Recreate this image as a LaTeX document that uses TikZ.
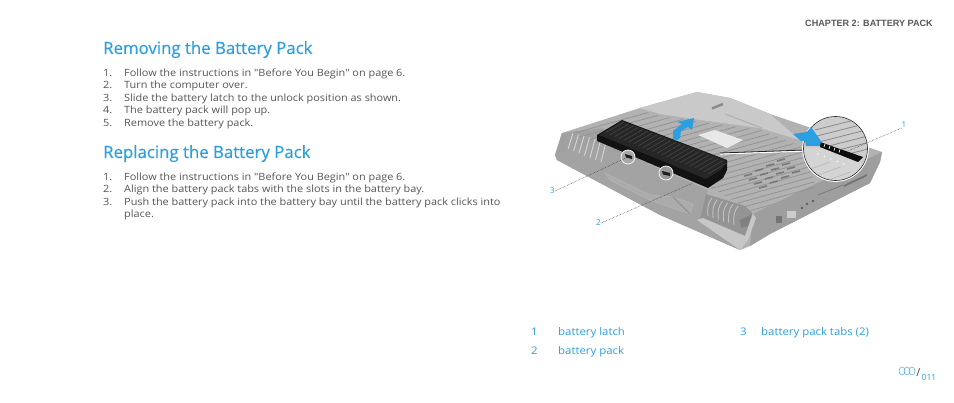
\documentclass[tikz,border=0pt]{standalone}
\usepackage{fontspec}
\setmainfont{Open Sans}
\newfontfamily\hdr{Liberation Sans}
\newfontfamily\bodyf[FakeStretch=1.09]{Open Sans}
\newfontfamily\legf[FakeStretch=1.085]{Open Sans}
\newfontfamily\ttlf[FakeBold=0.35]{Open Sans}
\definecolor{ablue}{HTML}{2B9FE0}
\definecolor{abody}{HTML}{555555}
\tikzset{
 title/.style={anchor=base west,inner sep=0pt,text=ablue,font=\ttlf\fontsize{16.8}{18}\selectfont},
 body/.style={anchor=base west,inner sep=0pt,text=abody,font=\bodyf\fontsize{10}{11}\selectfont},
 legend/.style={anchor=base west,inner sep=0pt,text=ablue,font=\legf\fontsize{10.5}{11}\selectfont},
 callout/.style={inner sep=0pt,text=ablue,font=\fontsize{8}{9}\selectfont},
 leader/.style={draw=black!80,line width=.5pt,densely dotted},
 stripe/.style={draw=black!42,line width=.8pt},
 lightvent/.style={draw=black!16,line width=.9pt},
 thick vent/.style={draw=black!52,line width=1.6pt},
 batline/.style={draw=black!72,line width=.6pt},
 magline/.style={draw=black!46,line width=.8pt},
 bluearrow/.style={fill=ablue,draw=none},
}
\begin{document}
\begin{tikzpicture}[x=1pt,y=-1pt]
\useasboundingbox (0,0) rectangle (954,403);
\fill[white] (0,0) rectangle (954,403);
% header
\node[anchor=base east,inner sep=0pt,text=black!65,font=\hdr\bfseries\fontsize{9.1}{10}\selectfont] (chap) at (933,27) {CHAPTER 2: BATTERY PACK};
% left column
\node[title] (t1) at (103,54) {Removing the Battery Pack};
\foreach \n/\y/\s in {a1/76.5/{Follow the instructions in "Before You Begin" on page 6.},
 a2/89/{Turn the computer over.},a3/101.5/{Slide the battery latch to the unlock position as shown.},
 a4/114/{The battery pack will pop up.},a5/127/{Remove the battery pack.}}{
 \node[body] (\n) at (124,\y) {\s};}
\foreach \n/\y/\s in {na1/76.5/1.,na2/89/2.,na3/101.5/3.,na4/114/4.,na5/127/5.}{
 \node[body] (\n) at (103,\y) {\s};}
\node[title] (t2) at (103,158) {Replacing the Battery Pack};
\foreach \n/\y/\s in {b1/180.5/{Follow the instructions in "Before You Begin" on page 6.},
 b2/193/{Align the battery pack tabs with the slots in the battery bay.},
 b3/205.5/{Push the battery pack into the battery bay until the battery pack clicks into},
 b4/218/{place.}}{
 \node[body] (\n) at (124,\y) {\s};}
\foreach \n/\y/\s in {nb1/180.5/1.,nb2/193/2.,nb3/205.5/3.}{
 \node[body] (\n) at (103,\y) {\s};}
% laptop silhouette
\fill[black!30] (562,133) -- (640,108) -- (697,92) -- (730,98) -- (770,114) -- (882,152) -- (880,162) -- (870,183) -- (770,234) -- (750,246) -- (740,250) -- (660,215) -- (557,160) -- (555,155) -- cycle;
% back panel, lighter
\fill[black!21] (640,108) -- (697,92) -- (730,98) -- (770,114) -- (800,140) -- (760,128) -- (700,120) -- (660,114) -- cycle;
% left corner block
\fill[black!37] (562,133) -- (604,128) -- (597,141) -- (628,160) -- (600,178) -- (555,155) -- cycle;
% front left skirt
\fill[black!36] (555,155) -- (570,150) -- (597,141) -- (707,190) -- (705,215) -- (740,250) -- (660,215) -- (557,160) -- cycle;
% right front face
\fill[black!38] (753,214) -- (882,152) -- (880,162) -- (870,183) -- (770,234) -- (750,246) -- cycle;
% recess in the skirt
\draw[black!30,line width=.8pt,fill=black!33] (605,173) -- (650,195) -- (673,197) -- (693,204) -- (690,214) -- (650,200) -- (610,180) -- cycle;
\draw[black!46,line width=.8pt] (673,197) -- (690,214);
% deck stripes
\begin{scope}
\clip (567,132) -- (640,110) -- (660,116) -- (700,122) -- (760,130) -- (800,146) -- (812,168) -- (815,188) -- (753,212) -- (715,190) -- (600,145) -- cycle;
\foreach \d in {0,5.5,...,150}{
 \draw[stripe] (560,{115+\d}) -- (830,{115+\d-75});}
\end{scope}
% thick vents on the deck
\foreach \d in {0,1,2,3}{
 \foreach \e in {0,1,2,3}{
 \draw[thick vent] ({744+\e*11+\d*5},{176-\e*5+\d*4}) -- ({752+\e*11+\d*5},{174-\e*5+\d*4});}}
% hinge vent and faint embossing
\draw[black!46,line width=2.4pt] (712,108.5) -- (723,104);
\draw[black!30,line width=1.2pt] (725,114) -- (762,128);
% touch plate
\fill[black!9] (698,135) -- (715,130) -- (743,140) -- (727,148) -- cycle;
% left-side vents
\foreach \x in {0,1,...,6}{
 \draw[lightvent] ({573+\x*5.5},{133+\x*1.5}) -- ({568+\x*5.5},{149+\x*2.2});}
% right-front vent block
\fill[black!42] (706,194) -- (745,206) -- (752,213) -- (745,238) -- (700,220) -- cycle;
\foreach \x in {0,1,...,5}{
 \draw[lightvent,draw=black!24] ({712+\x*5.2},{198+\x*1.6}) .. controls ({708+\x*5.2},{203+\x*1.6}) and ({707+\x*5.2},{208+\x*2}) .. ({708+\x*5.2},{216+\x*1.8});}
% corner plate
\fill[black!22] (697,220) -- (703,218) -- (745,236) -- (753,214) -- (756,218) -- (748,240) -- (740,250) -- cycle;
\fill[black!50] (740,220) -- (752,214) -- (748,226) -- (741,228) -- cycle;
% front ports
\fill[black!55] (776,216) rectangle (782,223);
\fill[black!20] (787,211) rectangle (796,218);
\foreach \x/\y in {802/208,807/204,813/201}{\fill[black!62] (\x,\y) circle (1.4);}
\draw[black!52,line width=.8pt] (818,195) -- (843,185);
\draw[black!55,line width=1.8pt] (844,186) -- (867,175);
% battery
\fill[black!93] (597,135) -- (622,120) -- (727,160) -- (727,170) -- (723,178) -- (708,188) -- (597,141) -- cycle;
\fill[black!85] (599,135) -- (622,121) -- (726,160) -- (722,169) -- (706,179) -- cycle;
\foreach \i in {0,1,...,22}{
 \draw[batline] ({605+\i*4.7},{133+\i*1.85}) -- ({624+\i*4.7},{122+\i*1.85});}
% upward arrow
\fill[bluearrow] (694,118) -- (692,130) -- (688,127) -- (681,131) -- (680,138) -- (676,141) -- (673,138) -- (673,131) -- (682,124) -- (677,122) -- cycle;
% battery tab circles
\coordinate (tabA) at (628,157);
\coordinate (tabB) at (666,173);
\fill[black!34] (tabA) circle (7);
\fill[black!88] (625,154) -- (632,156) -- (632,159) -- (626,157.5) -- cycle;
\draw[white,line width=.7pt] (tabA) circle (7);
\fill[black!40] (tabB) circle (7);
\fill[black!88] (662,171) -- (670,173) -- (670,176) -- (663,174.5) -- cycle;
\draw[white,line width=.7pt] (tabB) circle (7);
% magnifier
\coordinate (mag) at (835.5,148.5);
\draw[white,line width=1.2pt] (720,154) -- (805,151);
\draw[black!85,line width=.8pt] (720,153) -- (805,150);
\fill[black!20] (mag) circle (32);
\begin{scope}
\clip (mag) circle (32);
\foreach \d in {0,6.5,...,32.5}{
 \draw[magline] (815,{130+\d}) -- (870,{116+\d});}
\fill[black!17] (800,148) -- (822,148) -- (870,166) -- (870,190) -- (800,190) -- cycle;
\foreach \d in {0,7,14}{
 \draw[black!28,line width=.7pt] ({808+\d*1.5},{170+\d*.7}) -- ({830+\d*1.5},{162+\d*.7});}
\foreach \d in {0,1,2,3,4}{\fill[white] ({818+\d*6.4},{154+\d*2.5}) circle (.8);}
\fill[black!95] (820,142) -- (863,157) -- (858,162) -- (820,147) -- cycle;
\foreach \d in {0,1,2,3}{\draw[white,line width=.7pt] ({825+\d*5},{144+\d*1.8}) -- ({824+\d*5},{147+\d*1.8});}
\end{scope}
\draw[white,line width=1.5pt] (mag) circle (32.6);
\draw[black!85,line width=.6pt] (mag) circle (32);
% latch arrow
\fill[bluearrow] (793,134) -- (807,132) -- (811,127) -- (821,141) -- (820,146) -- (806,146) -- (805,141) -- (801,141) -- cycle;
% leaders
\node[callout] (c1) at (904,125) {1};
\node[callout] (c2) at (598.5,223) {2};
\node[callout] (c3) at (552.5,191) {3};
\coordinate (latch) at (848,151);
\coordinate (pack) at (693,183);
\draw[leader] (c1.south west) -- (latch);
\draw[leader] (c2.east) -- (pack);
\draw[leader] (c3.east) -- (tabA);
% legend
\node[legend] (l1) at (531,336) {1};
\node[legend] (lt1) at (558,336) {battery latch};
\node[legend] (l3) at (740,336) {3};
\node[legend] (lt3) at (761,336) {battery pack tabs (2)};
\node[legend] (l2) at (531,355) {2};
\node[legend] (lt2) at (558,355) {battery pack};
% page mark
\coordinate (logo) at (907,371);
\foreach \dx in {-5,0,5}{
 \draw[ablue!80,line width=.55pt] ([xshift=\dx pt]logo) ellipse (3 and 4);}
\node[anchor=base west,inner sep=0pt,text=ablue,font=\fontsize{8.4}{10}\selectfont] (pn) at (921.5,381) {011};
\node[anchor=base,inner sep=0pt,text=black!75,font=\fontsize{11}{12}\selectfont] (sl) at (918.5,377) {/};
\end{tikzpicture}
\end{document}
